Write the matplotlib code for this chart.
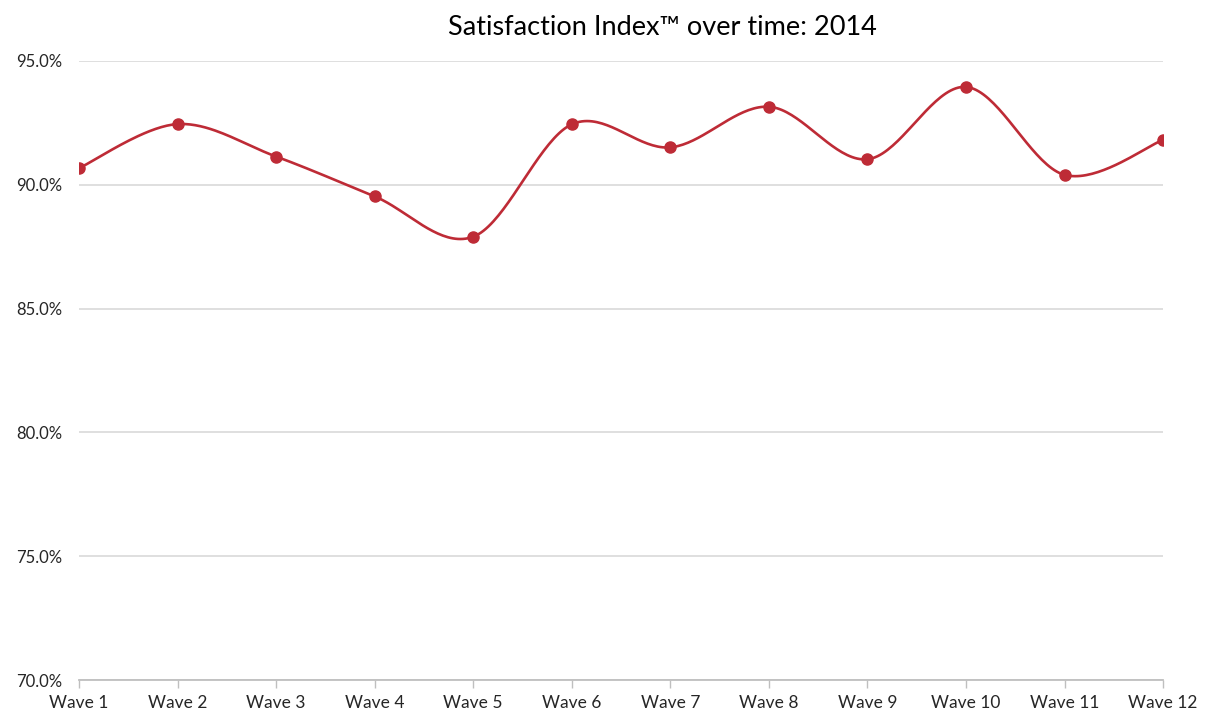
import numpy as np
import matplotlib.pyplot as plt
from matplotlib.ticker import FuncFormatter

# ---------------- DATA ----------------
waves = ["Wave 1", "Wave 2", "Wave 3", "Wave 4", "Wave 5", "Wave 6",
         "Wave 7", "Wave 8", "Wave 9", "Wave 10", "Wave 11", "Wave 12"]
satisfaction = [90.67, 92.45, 91.14, 89.53, 87.90, 92.44,
                91.51, 93.15, 91.03, 93.95, 90.40, 91.81]
y_ticks = [70, 75, 80, 85, 90, 95]

RED = "#BE2B36"
GRID = "#D9D9D9"
FONT = "Lato"


def smooth_curve(x, y, n=40):
    # Excel-style smoothed line: cubic Bezier with Catmull-Rom control points
    x = np.asarray(x, float)
    y = np.asarray(y, float)
    px = np.concatenate([[x[0]], x, [x[-1]]])
    py = np.concatenate([[y[0]], y, [y[-1]]])
    xs, ys = [], []
    t = np.linspace(0, 1, n)
    for i in range(1, len(px) - 2):
        p0 = np.array([px[i], py[i]])
        p3 = np.array([px[i + 1], py[i + 1]])
        c1 = p0 + (np.array([px[i + 1], py[i + 1]]) - np.array([px[i - 1], py[i - 1]])) / 6
        c2 = p3 - (np.array([px[i + 2], py[i + 2]]) - np.array([px[i], py[i]])) / 6
        b = ((1 - t) ** 3)[:, None] * p0 + (3 * (1 - t) ** 2 * t)[:, None] * c1 \
            + (3 * (1 - t) * t ** 2)[:, None] * c2 + (t ** 3)[:, None] * p3
        xs.extend(b[:, 0])
        ys.extend(b[:, 1])
    return np.array(xs), np.array(ys)


fig = plt.figure(figsize=(12.09, 7.17), dpi=100)
ax = fig.add_axes([0.0653, 0.0516, 0.8967, 0.8634])

xpos = np.arange(len(waves))
sx, sy = smooth_curve(xpos, satisfaction)
ax.plot(sx, sy, color=RED, lw=1.9, zorder=3, solid_capstyle="round")
ax.plot(xpos, satisfaction, "o", color=RED, ms=8, zorder=4)

ax.set_xlim(0, len(waves) - 1)
ax.set_ylim(70, 95)
ax.set_yticks(y_ticks)
ax.yaxis.set_major_formatter(FuncFormatter(lambda v, p: f"{v:.1f}%"))
ax.set_xticks(xpos)
ax.set_xticklabels(waves)

ax.grid(axis="y", color=GRID, lw=1.2)
ax.set_axisbelow(True)
for s in ["top", "right", "left"]:
    ax.spines[s].set_visible(False)
ax.spines["bottom"].set_color("#BFBFBF")
ax.spines["bottom"].set_linewidth(1.3)

ax.tick_params(axis="y", length=0, pad=12, labelsize=12, labelcolor="#262626")
ax.tick_params(axis="x", length=6, width=1.0, color="#BFBFBF", pad=5,
               labelsize=12.5, labelcolor="#262626")
for lbl in ax.get_xticklabels() + ax.get_yticklabels():
    lbl.set_fontfamily(FONT)

fig.text(0.548, 0.962, "Satisfaction Index\u2122 over time: 2014",
         ha="center", va="center", fontsize=19.5, family=FONT, color="black")

fig.savefig("out.png", dpi=100)
